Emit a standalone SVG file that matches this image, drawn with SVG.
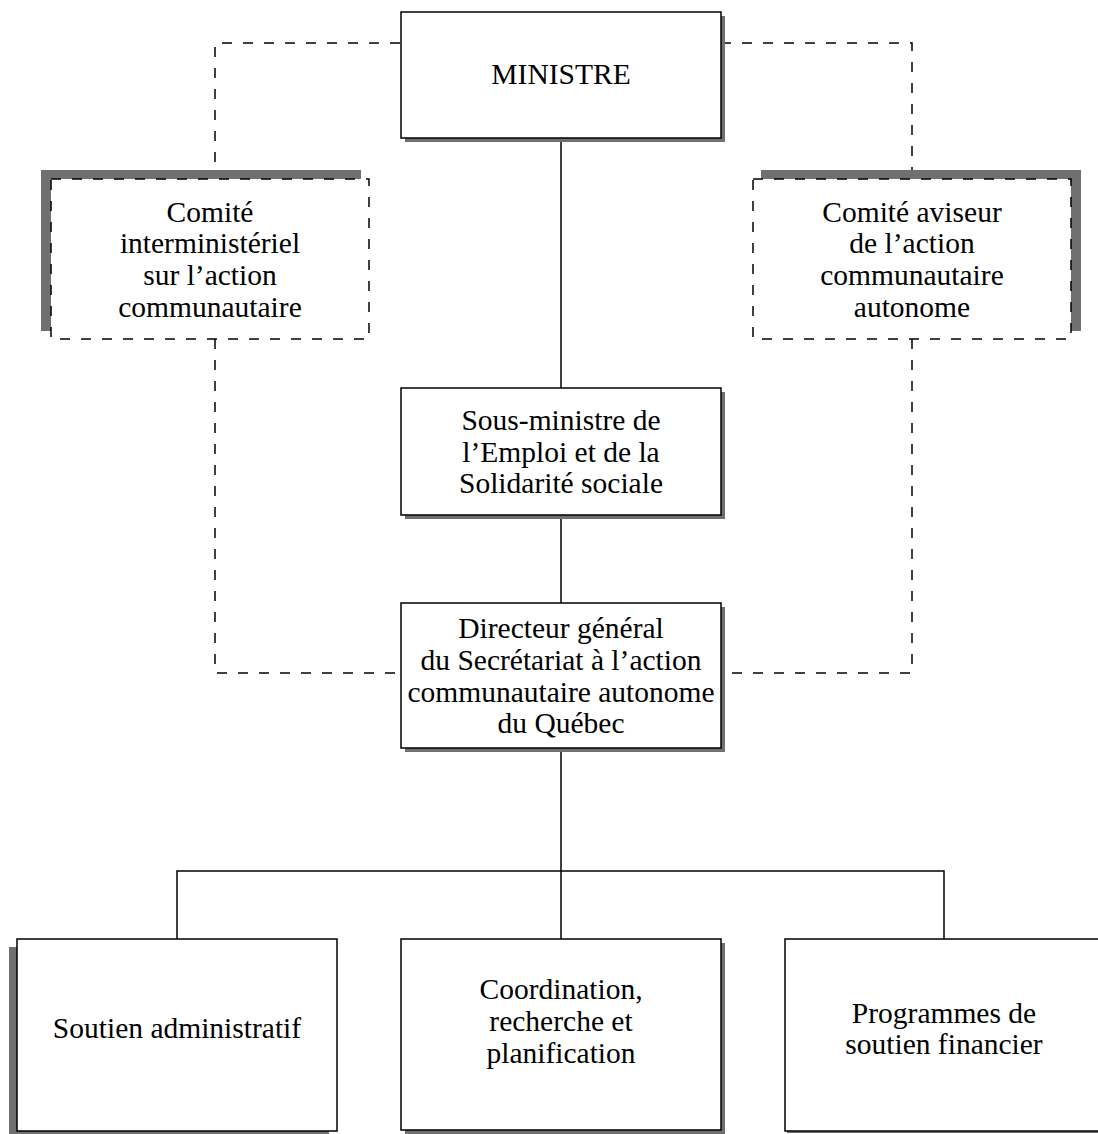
<svg xmlns="http://www.w3.org/2000/svg" width="1098" height="1134" viewBox="0 0 1098 1134">
<style>
.box{fill:#fff;stroke:#000;stroke-width:1.5}
.dbox{fill:#fff;stroke:#000;stroke-width:1.5;stroke-dasharray:10 11}
.sh{fill:#707070}
.ln{fill:none;stroke:#000;stroke-width:1.5}
.dl{fill:none;stroke:#000;stroke-width:1.5;stroke-dasharray:10 11}
text{font-family:"Liberation Serif","Times New Roman",serif;font-size:29.5px;fill:#000;text-anchor:middle}
</style>
<rect width="1098" height="1134" fill="#fff"/>
<g id="connectors">
<path class="ln" d="M561 138V388M561 515V603M561 748V871M177 939V871H944V939M561 871V939"/>
<path class="dl" d="M400 43H215V179M215 339V673H401"/>
<path class="dl" d="M721 43H912V179M912 339V673H721"/>
</g>
<g id="ministre">
<rect class="sh" x="405" y="16" width="320" height="126"/>
<rect class="box" x="401" y="12" width="320" height="126"/>
<text x="561" y="84">MINISTRE</text>
</g>
<g id="comite-interministeriel">
<rect class="sh" x="41" y="170" width="320" height="161"/>
<rect class="dbox" x="51" y="179" width="318" height="160"/>
<text x="210" y="221.5">Comité</text>
<text x="210" y="253">interministériel</text>
<text x="210" y="285">sur l’action</text>
<text x="210" y="316.5">communautaire</text>
</g>
<g id="comite-aviseur">
<rect class="sh" x="761" y="170" width="320" height="161"/>
<rect class="dbox" x="753" y="179" width="318" height="160"/>
<text x="912" y="221.5">Comité aviseur</text>
<text x="912" y="253">de l’action</text>
<text x="912" y="285">communautaire</text>
<text x="912" y="316.5">autonome</text>
</g>
<g id="sous-ministre">
<rect class="sh" x="405" y="392" width="320" height="127"/>
<rect class="box" x="401" y="388" width="320" height="127"/>
<text x="561" y="430">Sous-ministre de</text>
<text x="561" y="461.5">l’Emploi et de la</text>
<text x="561" y="493">Solidarité sociale</text>
</g>
<g id="directeur">
<rect class="sh" x="405" y="607" width="320" height="145"/>
<rect class="box" x="401" y="603" width="320" height="145"/>
<text x="561" y="638">Directeur général</text>
<text x="561" y="670">du Secrétariat à l’action</text>
<text x="561" y="701.5">communautaire autonome</text>
<text x="561" y="733">du Québec</text>
</g>
<g id="soutien-administratif">
<rect class="sh" x="9" y="947" width="320" height="192"/>
<rect class="box" x="17" y="939" width="320" height="192"/>
<text x="177" y="1038">Soutien administratif</text>
</g>
<g id="coordination">
<rect class="sh" x="405" y="943" width="320" height="191"/>
<rect class="box" x="401" y="939" width="320" height="191"/>
<text x="561" y="999">Coordination,</text>
<text x="561" y="1031">recherche et</text>
<text x="561" y="1063">planification</text>
</g>
<g id="programmes">
<rect class="sh" x="787" y="941" width="320" height="192"/>
<rect class="box" x="785" y="939" width="320" height="192"/>
<text x="944" y="1023">Programmes de</text>
<text x="944" y="1053.5">soutien financier</text>
</g>
</svg>
